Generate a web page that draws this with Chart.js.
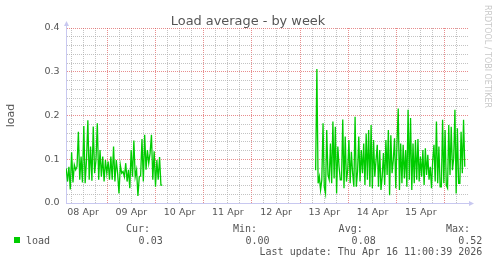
<!DOCTYPE html>
<html>
<head>
<meta charset="utf-8">
<script src="https://cdn.jsdelivr.net/npm/chart.js@4/dist/chart.umd.min.js"></script>
<style>
  html, body { margin: 0; padding: 0; background: #fff; }
  #wrap { width: 497px; height: 264px; position: relative; }
</style>
</head>
<body>
<div id="wrap"><canvas id="loadChart" width="497" height="264"></canvas></div>
<script>
// hours counted from 08 Apr 00:00
const dayLabels = ['08 Apr', '09 Apr', '10 Apr', '11 Apr', '12 Apr', '13 Apr', '14 Apr', '15 Apr'];

const seg1Start = 3.6, seg1End = 51.4;
const seg1Load = [
  0.079, 0.049, 0.083, 0.031, 0.116, 0.047, 0.087, 0.076, 0.083, 0.163, 0.053, 0.106,
  0.047, 0.176, 0.045, 0.098, 0.189, 0.053, 0.129, 0.051, 0.175, 0.068, 0.098, 0.182,
  0.053, 0.121, 0.060, 0.106, 0.049, 0.098, 0.068, 0.095, 0.053, 0.106, 0.053, 0.129,
  0.049, 0.098, 0.068, 0.022, 0.087, 0.068, 0.072, 0.060, 0.091, 0.049, 0.076, 0.034,
  0.121, 0.060, 0.143, 0.060, 0.076, 0.016, 0.060, 0.062, 0.146, 0.049, 0.156, 0.076,
  0.121, 0.091, 0.114, 0.156, 0.053, 0.118, 0.037, 0.098, 0.053, 0.105, 0.041, 0.041
];

const seg2Start = 127.7, seg2End = 201.9;
const seg2Load = [
  0.075, 0.306, 0.045, 0.060, 0.030, 0.053, 0.182, 0.037, 0.022, 0.167, 0.064, 0.053,
  0.136, 0.045, 0.186, 0.056, 0.174, 0.022, 0.129, 0.083, 0.053, 0.053, 0.191, 0.034,
  0.152, 0.049, 0.075, 0.144, 0.045, 0.117, 0.068, 0.037, 0.197, 0.037, 0.072, 0.152,
  0.049, 0.121, 0.068, 0.136, 0.041, 0.159, 0.053, 0.167, 0.037,
  0.178, 0.034, 0.144, 0.060, 0.098, 0.133, 0.037, 0.121, 0.030, 0.060, 0.114, 0.041,
  0.144, 0.064, 0.167, 0.018, 0.155, 0.068, 0.098, 0.148, 0.034, 0.138, 0.216, 0.030,
  0.136, 0.045, 0.133, 0.056, 0.121, 0.037, 0.213, 0.053, 0.194, 0.030, 0.136, 0.045,
  0.144,
  0.053, 0.146, 0.049, 0.106, 0.060, 0.121, 0.041, 0.125, 0.064, 0.110, 0.053, 0.083,
  0.034, 0.098, 0.133, 0.049, 0.186, 0.045, 0.129, 0.037, 0.037, 0.190, 0.045, 0.167,
  0.041, 0.034, 0.178, 0.064, 0.174, 0.075, 0.102, 0.213, 0.022, 0.171, 0.045, 0.045,
  0.163, 0.068, 0.190, 0.083
];

const legendHeads = ['Cur:', 'Min:', 'Avg:', 'Max:'];
const legendValues = ['0.03', '0.00', '0.08', '0.52'];
const lastUpdate = 'Last update: Thu Apr 16 11:00:39 2026';

function toPoints(start, end, values) {
  const step = (end - start) / (values.length - 1);
  return values.map((v, i) => ({ x: start + i * step, y: v }));
}

const points = toPoints(seg1Start, seg1End, seg1Load)
  .concat([{ x: (seg1End + seg2Start) / 2, y: null }])
  .concat(toPoints(seg2Start, seg2End, seg2Load));

const TXT = '#555';
const AXIS = 'rgb(200,200,240)';
const MINOR = 'rgba(170,170,170,0.7)';
const MAJOR = 'rgba(220,80,80,0.65)';

// title, unit label, watermark, arrows and the legend rows
const extras = {
  id: 'extras',
  afterDraw(chart) {
    const ctx = chart.ctx;
    const a = chart.chartArea;
    ctx.save();
    ctx.fillStyle = TXT;
    ctx.font = '12.9px "DejaVu Sans"';
    ctx.textAlign = 'center';
    ctx.textBaseline = 'alphabetic';
    ctx.fillText('Load average - by week', 248, 25);

    ctx.save();
    ctx.translate(13.5, (a.top + a.bottom) / 2);
    ctx.rotate(-Math.PI / 2);
    ctx.font = '11px "DejaVu Sans"';
    ctx.fillText('load', 0, 0);
    ctx.restore();

    ctx.save();
    ctx.translate(485, 5);
    ctx.rotate(Math.PI / 2);
    ctx.fillStyle = '#c8c8c8';
    ctx.font = '8px "DejaVu Sans"';
    ctx.textAlign = 'left';
    ctx.fillText('RRDTOOL / TOBI OETIKER', 0, 0);
    ctx.restore();

    // axis arrows
    ctx.fillStyle = AXIS;
    ctx.strokeStyle = AXIS;
    ctx.lineWidth = 1;
    ctx.beginPath();
    ctx.moveTo(a.left + 0.5, a.top);
    ctx.lineTo(a.left + 0.5, a.top - 3);
    ctx.stroke();
    ctx.beginPath();
    ctx.moveTo(a.left + 0.5, a.top - 7);
    ctx.lineTo(a.left - 2, a.top - 2);
    ctx.lineTo(a.left + 3, a.top - 2);
    ctx.closePath();
    ctx.fill();
    ctx.beginPath();
    ctx.moveTo(a.right + 6, a.bottom + 0.5);
    ctx.lineTo(a.right + 1, a.bottom - 2);
    ctx.lineTo(a.right + 1, a.bottom + 3);
    ctx.closePath();
    ctx.fill();

    // legend
    ctx.font = '10px "DejaVu Sans Mono"';
    ctx.fillStyle = TXT;
    ctx.textAlign = 'right';
    const headRight = [150, 257, 362.7, 470];
    const valRight = [162.7, 269.5, 375.7, 482.3];
    legendHeads.forEach((h, i) => ctx.fillText(h, headRight[i], 232));
    legendValues.forEach((v, i) => ctx.fillText(v, valRight[i], 243.5));
    ctx.fillText(lastUpdate, 482.3, 254.5);
    ctx.textAlign = 'left';
    ctx.fillText('load', 26, 243.5);
    ctx.fillStyle = '#00cc00';
    ctx.fillRect(14, 237, 6, 6);
    ctx.restore();
  }
};

new Chart(document.getElementById('loadChart'), {
  type: 'line',
  data: {
    datasets: [{
      label: 'load',
      data: points,
      borderColor: '#00cc00',
      borderWidth: 1.3,
      pointRadius: 0,
      tension: 0,
      spanGaps: false
    }]
  },
  options: {
    responsive: false,
    animation: false,
    layout: { padding: { top: 28, left: 0, right: 29, bottom: 36 } },
    plugins: { legend: { display: false }, tooltip: { enabled: false } },
    scales: {
      x: {
        type: 'linear',
        min: 3.5,
        max: 203.5,
        afterFit: (s) => { s.height = 25; },
        // one tick every 6 hours, counted from midnight
        afterBuildTicks: (s) => {
          const t = [];
          for (let h = 6; h < s.max; h += 6) t.push({ value: h });
          s.ticks = t;
        },
        grid: {
          drawTicks: false,
          color: (c) => (c.tick && Math.round(c.tick.value) % 24 === 0) ? MAJOR : MINOR
        },
        border: { color: AXIS, dash: [1, 1] },
        ticks: {
          autoSkip: false,
          maxRotation: 0,
          padding: 3.5,
          color: TXT,
          font: { family: 'DejaVu Sans', size: 9.5 },
          callback: (v) => (Math.round(v) % 24 === 12) ? (dayLabels[Math.floor(v / 24)] || '') : ''
        }
      },
      y: {
        min: 0,
        max: 0.4,
        afterFit: (s) => { s.width = 66; },
        grid: {
          drawTicks: false,
          color: (c) => {
            const v = c.tick ? c.tick.value * 10 : 0;
            return Math.abs(v - Math.round(v)) < 1e-6 ? MAJOR : MINOR;
          }
        },
        border: { color: AXIS, dash: [1, 1] },
        ticks: {
          stepSize: 0.02,
          autoSkip: false,
          padding: 6.5,
          color: TXT,
          font: { family: 'DejaVu Sans', size: 9.5 },
          callback: (v) => {
            const t = v * 10;
            return Math.abs(t - Math.round(t)) < 1e-6 ? (Math.round(t) / 10).toFixed(1) : '';
          }
        }
      }
    }
  },
  plugins: [extras]
});
</script>
</body>
</html>
